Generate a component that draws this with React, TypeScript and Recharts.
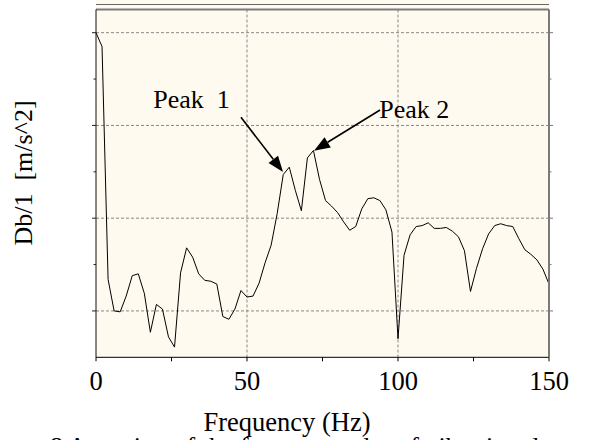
import {
  CartesianGrid,
  Line,
  LineChart,
  ReferenceDot,
  ReferenceLine,
  XAxis,
  YAxis,
} from 'recharts'

const freq = [
  0, 2, 4, 6, 8, 10, 12, 14, 16, 18, 20, 22, 24, 26, 28, 30, 32, 34, 36, 38,
  40, 42, 44, 46, 48, 50, 52, 54, 56, 58, 60, 62, 64, 66, 68, 70, 72, 74, 76,
  78, 80, 82, 84, 86, 88, 90, 92, 94, 96, 98, 100, 102, 104, 106, 108, 110,
  112, 114, 116, 118, 120, 122, 124, 126, 128, 130, 132, 134, 136, 138, 140,
  142, 144, 146, 148, 150,
]

const level = [
  3.0, 2.85, 0.34, 0.0, -0.01, 0.16, 0.38, 0.4, 0.19, -0.23, 0.07, 0.02,
  -0.28, -0.39, 0.41, 0.68, 0.58, 0.4, 0.33, 0.32, 0.29, -0.06, -0.09, 0.02,
  0.22, 0.15, 0.16, 0.3, 0.52, 0.71, 1.05, 1.47, 1.55, 1.3, 1.08, 1.65, 1.73,
  1.42, 1.19, 1.13, 1.06, 0.96, 0.87, 0.91, 1.1, 1.21, 1.22, 1.19, 1.09, 0.85,
  -0.3, 0.6, 0.82, 0.91, 0.92, 0.95, 0.89, 0.89, 0.9, 0.86, 0.8, 0.65, 0.21,
  0.46, 0.67, 0.83, 0.92, 0.94, 0.92, 0.91, 0.78, 0.66, 0.61, 0.55, 0.45, 0.29,
]

const xTicks = [0, 25, 50, 75, 100, 125, 150]
const xLabels = [0, 50, 100, 150]
const yTicks = [0, 0.5, 1, 1.5, 2, 2.5, 3]
const yMajor = [0, 1, 2, 3]

const peakLabels = [
  { text: 'Peak\u00a0 1', f: 18.98, v: 2.185 },
  { text: 'Peak 2', f: 93.8, v: 2.077 },
]

const peakArrows = [
  { f1: 48.0, v1: 2.088, f2: 61.93, v2: 1.498 },
  { f1: 94.06, v1: 2.166, f2: 72.2, v2: 1.728 },
]

const data = freq.map((f, i) => ({ f, v: level[i] }))

const serif = '"Liberation Serif", "Times New Roman", serif'
const cream = '#fffaf0'

const XTick = (props: any) => {
  const { x, y, payload } = props
  return (
    <g>
      <line x1={x} x2={x} y1={y} y2={y + 4} stroke="#000" />
      {xLabels.includes(payload.value) && (
        <text
          x={x}
          y={y + 33}
          textAnchor="middle"
          fontSize={26.5}
          fontFamily={serif}
          fill="#000"
        >
          {payload.value}
        </text>
      )}
    </g>
  )
}

const LeftTick = (props: any) => {
  const { x, y, payload } = props
  const len = yMajor.includes(payload.value) ? 4 : 2.5
  return <line x1={x} x2={x - len} y1={y} y2={y} stroke="#222" />
}

const RightTick = (props: any) => {
  const { x, y, payload } = props
  const len = yMajor.includes(payload.value) ? 4 : 2.5
  return <line x1={x} x2={x + len} y1={y} y2={y} stroke="#777" />
}

const arrowShape = (p: any) => {
  const { x1, y1, x2, y2 } = p
  const dx = x2 - x1
  const dy = y2 - y1
  const len = Math.hypot(dx, dy) || 1
  const ux = dx / len
  const uy = dy / len
  const head = 16
  const half = 6
  const bx = x2 - ux * head
  const by = y2 - uy * head
  return (
    <g>
      <line x1={x1} y1={y1} x2={bx} y2={by} stroke="#000" strokeWidth={1.6} />
      <polygon
        points={`${x2},${y2} ${bx - uy * half},${by + ux * half} ${bx + uy * half},${by - ux * half}`}
        fill="#000"
      />
    </g>
  )
}

export default function App() {
  return (
    <div
      style={{
        position: 'absolute',
        left: 0,
        top: 0,
        width: 609,
        height: 440,
        background: '#fff',
      }}
    >
      <div
        style={{
          position: 'absolute',
          left: 96,
          top: 0,
          width: 453,
          height: 9,
          background: cream,
        }}
      />
      <div
        style={{
          position: 'absolute',
          left: 96,
          top: 4,
          width: 453,
          height: 1,
          background: '#666',
        }}
      />
      <LineChart
        width={609}
        height={440}
        data={data}
        margin={{ top: 9.5, right: 30, bottom: 0, left: 66 }}
        style={{ position: 'absolute', left: 0, top: 0 }}
      >
        <CartesianGrid
          fill={cream}
          fillOpacity={1}
          stroke="#888"
          strokeDasharray="3 2"
          horizontalValues={yMajor}
          verticalValues={[50, 100]}
        />
        <XAxis
          dataKey="f"
          type="number"
          domain={[0, 150]}
          ticks={xTicks}
          interval={0}
          tickSize={0}
          tickMargin={0}
          tickLine={false}
          tick={<XTick />}
          axisLine={{ stroke: '#000' }}
          height={82.7}
        />
        <YAxis
          type="number"
          domain={[-0.5, 3.25]}
          allowDataOverflow
          ticks={yTicks}
          interval={0}
          tickSize={0}
          tickMargin={0}
          tickLine={false}
          tick={<LeftTick />}
          axisLine={{ stroke: '#111' }}
          width={30}
        />
        <YAxis
          yAxisId="right"
          orientation="right"
          type="number"
          domain={[-0.5, 3.25]}
          allowDataOverflow
          ticks={yTicks}
          interval={0}
          tickSize={0}
          tickMargin={0}
          tickLine={false}
          tick={<RightTick />}
          axisLine={{ stroke: '#7a7a7a', strokeWidth: 2 }}
          width={30}
        />
        <ReferenceLine y={3.25} stroke="#7a7a7a" strokeWidth={2} />
        <Line
          dataKey="v"
          type="linear"
          stroke="#000"
          strokeWidth={1}
          dot={false}
          isAnimationActive={false}
        />
        {peakArrows.map((a, i) => (
          <ReferenceLine
            key={'a' + i}
            segment={[
              { x: a.f1, y: a.v1 },
              { x: a.f2, y: a.v2 },
            ]}
            shape={arrowShape}
          />
        ))}
        {peakLabels.map((l) => (
          <ReferenceDot
            key={l.text}
            x={l.f}
            y={l.v}
            r={0}
            shape={(p: any) => (
              <text
                x={p.cx}
                y={p.cy}
                fontSize={26}
                fontFamily={serif}
                fill="#000"
              >
                {l.text}
              </text>
            )}
          />
        ))}
        <text
          x={32}
          y={173}
          transform="rotate(-90 32 173)"
          textAnchor="middle"
          fontSize={26}
          fontFamily={serif}
          fill="#000"
        >
          {'Db/1\u00a0 [m/s^2]'}
        </text>
        <text
          x={287}
          y={431}
          textAnchor="middle"
          fontSize={26.5}
          fontFamily={serif}
          fill="#000"
        >
          Frequency (Hz)
        </text>
        <text x={50} y={455} fontSize={26} fontFamily={serif} fill="#000">
          8 A portion of the frequency plot of vibration data
        </text>
      </LineChart>
    </div>
  )
}
